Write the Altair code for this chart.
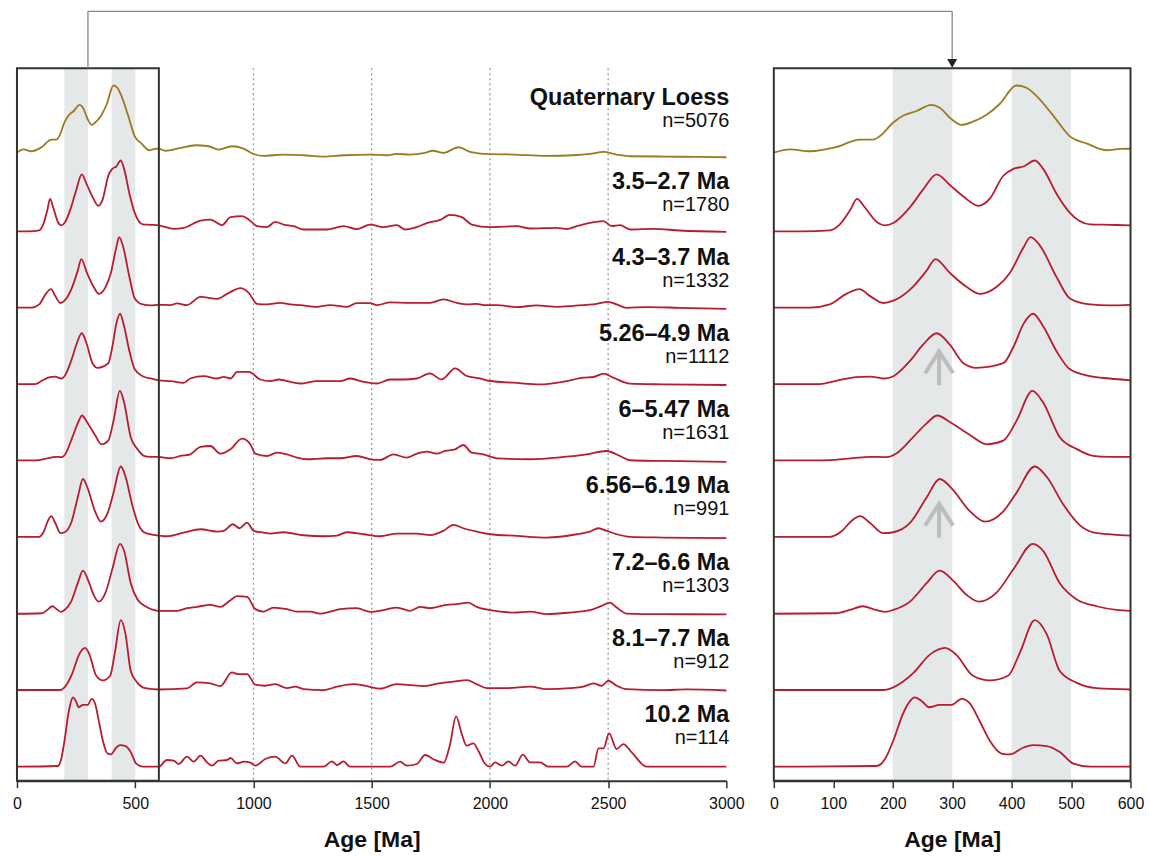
import altair as alt
import pandas as pd

FONT = "Liberation Sans"

SERIES = ["Quaternary Loess", "3.5–2.7 Ma", "4.3–3.7 Ma", "5.26–4.9 Ma", "6–5.47 Ma",
          "6.56–6.19 Ma", "7.2–6.6 Ma", "8.1–7.7 Ma", "10.2 Ma"]
COUNTS = [5076, 1780, 1332, 1112, 1631, 991, 1303, 912, 114]
COLORS = ["#9C7A1F"] + ["#B71C2F"] * 8

LOESS_AGE = [0, 27, 61, 105, 145, 167, 178, 201, 218, 240, 265, 279, 299, 316, 335, 358, 380, 408, 425, 442,
             470, 498, 526, 560, 582, 600, 627, 691, 754, 810, 853, 909, 958, 1000, 1043, 1127, 1212, 1296, 1381, 1494,
             1564, 1606, 1663, 1719, 1760, 1803, 1867, 1916, 1973, 2100, 2240, 2353, 2423, 2480, 2536, 2593, 2733, 2874, 3000]
LOESS_H = [4.6, 7.9, 6.0, 10.2, 17.6, 17.6, 20.9, 34.8, 41.7, 46.3, 52.4, 49.6, 38.0, 32.4, 35.7, 42.6, 53.3, 71.8, 69.5, 61.2,
           41.7, 20.9, 13.9, 7.0, 8.3, 8.5, 6.5, 9.3, 12.0, 11.0, 7.7, 11.0, 8.7, 3.3, 1.3, 2.7, 2.0, 0.7, 2.0, 2.7,
           2.0, 3.3, 2.7, 4.0, 6.5, 4.3, 10.0, 5.3, 3.3, 2.7, 1.3, 2.0, 3.3, 5.3, 2.7, 1.0, 0.7, 0.3, 0.0]

S35_AGE = [0, 49, 94, 111, 128, 140, 153, 173, 187, 201, 229, 251, 274, 296, 319, 344, 363, 386, 403, 420,
           439, 453, 476, 498, 532, 565, 600, 620, 663, 705, 776, 818, 867, 903, 952, 980, 1015, 1057, 1092, 1127,
           1170, 1212, 1310, 1381, 1437, 1494, 1550, 1606, 1641, 1691, 1733, 1789, 1831, 1881, 1923, 2001, 2114, 2170, 2283, 2325,
           2367, 2423, 2480, 2515, 2550, 2593, 2691, 2803, 3000]
S35_H = [2.1, 2.1, 3.1, 9.1, 23.0, 34.6, 26.2, 11.4, 8.1, 10.4, 26.2, 43.8, 59.1, 48.5, 36.9, 27.6, 34.6, 57.7, 64.6, 67.0,
         73.0, 64.6, 39.2, 20.6, 9.1, 8.6, 8.0, 6.8, 4.6, 5.6, 12.9, 13.9, 8.3, 16.3, 17.3, 13.9, 7.3, 6.3, 11.6, 8.9,
         7.3, 3.9, 3.9, 7.3, 4.3, 8.9, 6.3, 8.3, 3.9, 6.3, 10.3, 13.5, 18.5, 16.3, 8.9, 6.3, 7.3, 4.9, 5.6, 4.3,
         7.3, 10.6, 12.3, 7.3, 8.3, 3.9, 4.6, 2.9, 1.6]

S43_AGE = [0, 61, 94, 122, 144, 162, 184, 201, 234, 257, 272, 296, 324, 347, 375, 397, 420, 432, 447, 476,
           498, 532, 565, 600, 649, 677, 719, 776, 846, 889, 945, 980, 1015, 1057, 1113, 1156, 1198, 1268, 1325, 1395,
           1437, 1494, 1522, 1578, 1663, 1747, 1803, 1860, 1902, 1944, 1973, 2029, 2114, 2198, 2283, 2353, 2452, 2501, 2536, 2578,
           2663, 2803, 3000]
S43_H = [1.9, 1.9, 5.2, 15.8, 20.5, 13.5, 6.6, 8.9, 22.8, 39.0, 50.6, 36.7, 22.8, 15.8, 22.8, 36.7, 62.2, 72.5, 64.6, 32.1,
         11.2, 5.2, 4.3, 4.8, 4.5, 6.2, 4.5, 12.8, 10.8, 15.8, 21.5, 16.8, 5.8, 5.2, 6.8, 5.2, 4.5, 2.8, 4.5, 2.8,
         6.5, 6.5, 4.5, 7.2, 6.8, 6.8, 10.2, 6.8, 5.2, 5.8, 4.5, 4.5, 2.5, 4.2, 2.8, 3.8, 5.8, 7.8, 5.2, 1.8,
         2.5, 1.8, 0.8]

S526_AGE = [0, 77, 105, 139, 162, 187, 201, 229, 251, 274, 296, 319, 341, 386, 403, 420, 436, 453, 476, 498,
            532, 565, 600, 649, 705, 733, 790, 846, 874, 903, 931, 980, 1029, 1071, 1107, 1142, 1198, 1268, 1367, 1409,
            1466, 1522, 1578, 1634, 1691, 1745, 1796, 1853, 1902, 1958, 2001, 2100, 2212, 2311, 2395, 2438, 2480, 2522, 2593, 2733,
            3000]
S526_H = [1.7, 1.7, 5.0, 8.7, 9.1, 7.3, 9.6, 24.9, 41.1, 52.6, 41.1, 22.6, 18.0, 22.6, 38.8, 62.0, 72.1, 59.6, 34.1, 16.5,
          9.6, 7.3, 5.5, 4.7, 3.0, 7.3, 9.7, 7.3, 9.0, 7.3, 14.0, 14.0, 6.3, 4.7, 6.3, 4.7, 2.3, 4.7, 4.7, 7.3,
          4.0, 2.3, 6.3, 6.3, 7.3, 12.5, 6.4, 17.4, 9.8, 7.4, 4.8, 3.1, 1.4, 4.1, 8.1, 8.8, 12.1, 8.1, 2.1, 1.4,
          0.8]

S6_AGE = [0, 77, 133, 162, 190, 206, 234, 257, 275, 296, 330, 358, 386, 408, 435, 453, 481, 509, 537, 565,
          600, 649, 691, 733, 776, 818, 860, 903, 952, 987, 1008, 1057, 1099, 1142, 1184, 1226, 1310, 1367, 1437, 1494,
          1536, 1592, 1648, 1691, 1733, 1775, 1810, 1853, 1888, 1923, 1973, 2029, 2170, 2311, 2409, 2494, 2550, 2593, 2733, 3000]
S6_H = [1.5, 1.5, 3.9, 5.2, 4.8, 8.5, 24.7, 38.6, 46.5, 40.0, 27.0, 17.7, 21.4, 40.9, 71.1, 59.5, 24.7, 13.1, 6.2, 5.2,
        5.0, 3.7, 6.0, 7.7, 15.0, 16.0, 8.3, 12.7, 23.3, 17.7, 8.3, 6.0, 9.3, 7.7, 4.3, 2.7, 3.7, 3.7, 6.0, 2.7,
        2.0, 7.7, 4.3, 8.3, 10.3, 8.3, 11.0, 12.7, 17.0, 9.3, 7.7, 3.7, 2.7, 5.0, 7.7, 11.0, 6.0, 1.7, 1.0, 0.0]

S656_AGE = [0, 94, 114, 131, 145, 162, 184, 201, 229, 257, 279, 299, 330, 355, 386, 408, 439, 459, 487, 515,
            537, 571, 600, 634, 705, 776, 846, 874, 913, 941, 973, 1001, 1043, 1071, 1127, 1212, 1296, 1353, 1395, 1466,
            1536, 1606, 1691, 1747, 1803, 1846, 1888, 1944, 2001, 2114, 2240, 2367, 2423, 2459, 2494, 2536, 2593, 2733, 3000]
S656_H = [1.3, 1.3, 6.9, 17.5, 22.1, 15.2, 5.0, 5.9, 15.2, 40.7, 59.2, 49.9, 26.8, 16.5, 26.8, 45.3, 71.7, 61.5, 33.6, 12.8,
          5.9, 3.6, 2.5, 1.9, 5.6, 8.9, 6.6, 7.3, 13.9, 9.9, 15.6, 7.3, 5.6, 4.6, 5.9, 2.9, 1.9, 2.6, 5.9, 3.9,
          1.9, 4.6, 4.6, 3.0, 7.3, 13.3, 9.9, 6.6, 3.9, 2.3, 0.6, 3.9, 6.6, 9.9, 7.3, 3.9, 1.3, 0.6, 0.0]

S72_AGE = [0, 105, 128, 150, 167, 187, 201, 229, 257, 279, 302, 324, 345, 375, 403, 436, 453, 481, 509, 543,
           577, 600, 677, 719, 761, 818, 860, 903, 931, 973, 1008, 1043, 1085, 1142, 1184, 1240, 1282, 1325, 1367, 1437,
           1494, 1550, 1606, 1663, 1705, 1747, 1817, 1860, 1909, 1944, 2001, 2100, 2170, 2240, 2339, 2423, 2473, 2508, 2536, 2578,
           2733, 3000]
S72_H = [0.6, 1.1, 4.4, 8.1, 5.3, 2.5, 4.4, 12.7, 31.2, 43.7, 33.5, 19.6, 12.7, 22.0, 45.1, 70.6, 63.6, 31.2, 15.1, 8.1,
         4.4, 3.4, 3.5, 6.2, 7.5, 9.5, 7.5, 14.2, 18.2, 17.5, 5.2, 2.8, 6.8, 5.2, 2.8, 2.8, 0.8, 2.8, 5.2, 6.2,
         2.5, 4.2, 6.8, 3.5, 7.5, 6.2, 9.5, 10.2, 11.8, 7.5, 4.2, 1.8, 2.8, 0.2, 1.8, 4.2, 8.5, 11.8, 6.8, 0.8,
         0.2, 0.0]

S81_AGE = [0, 184, 201, 234, 262, 288, 307, 335, 363, 394, 414, 439, 459, 481, 509, 543, 600, 719, 761, 818,
           860, 909, 937, 973, 1008, 1050, 1092, 1142, 1177, 1212, 1296, 1353, 1423, 1480, 1536, 1606, 1677, 1719, 1775, 1853,
           1902, 1944, 1987, 2071, 2170, 2240, 2339, 2395, 2438, 2473, 2501, 2536, 2578, 2733, 2832, 3000]
S81_H = [0.5, 0.5, 3.2, 17.1, 35.7, 42.6, 35.7, 14.8, 10.2, 14.8, 38.0, 70.4, 56.5, 19.5, 7.9, 2.3, 1.0, 2.1, 8.1, 7.1,
         4.4, 18.1, 16.4, 16.4, 5.8, 4.8, 6.4, 2.4, 3.8, 1.4, 0.4, 3.8, 6.4, 4.4, 1.8, 6.4, 5.1, 4.4, 6.8, 9.1,
         10.4, 6.4, 2.4, 2.4, 3.8, 1.4, 2.4, 3.8, 7.1, 4.8, 9.8, 4.8, 1.4, 0.4, 1.1, 0.0]

S102_AGE = [0, 173, 187, 201, 218, 229, 237, 249, 261, 279, 299, 316, 330, 347, 363, 383, 397, 420, 436, 459,
            481, 504, 532, 600, 634, 663, 684, 719, 747, 776, 804, 825, 853, 889, 903, 931, 959, 987, 1008, 1050,
            1092, 1135, 1163, 1198, 1296, 1332, 1353, 1381, 1409, 1578, 1620, 1648, 1691, 1726, 1761, 1805, 1831, 1857, 1881, 1902,
            1930, 1951, 1980, 2001, 2022, 2050, 2078, 2107, 2139, 2170, 2212, 2247, 2325, 2360, 2388, 2438, 2459, 2480, 2504, 2536,
            2564, 2600, 2663, 3000]
S102_H = [0.0, 0.7, 7.6, 26.2, 54.0, 65.6, 69.3, 65.6, 59.5, 61.9, 61.9, 67.8, 63.2, 44.7, 26.2, 13.2, 12.3, 19.2, 21.5, 20.6,
          14.6, 3.0, 0.0, 0.0, 6.7, 6.0, 2.7, 10.0, 5.0, 11.0, 4.3, 1.0, 6.0, 6.7, 8.7, 3.3, 5.0, 4.0, 1.0, 7.7,
          10.0, 3.3, 11.0, 0.0, 0.0, 5.3, 1.7, 5.3, 0.0, 0.0, 5.0, 1.0, 2.7, 11.7, 7.5, 4.0, 22.0, 50.3, 32.7, 21.0,
          23.3, 16.0, 2.7, 0.0, 4.3, 1.0, 5.3, 1.0, 12.0, 4.3, 4.3, 0.0, 0.0, 5.3, 0.0, 0.0, 18.3, 18.3, 33.3, 17.7,
          22.7, 14.3, 0.0, 0.0]

AGES = [LOESS_AGE, S35_AGE, S43_AGE, S526_AGE, S6_AGE, S656_AGE, S72_AGE, S81_AGE, S102_AGE]
HEIGHTS = [LOESS_H, S35_H, S43_H, S526_H, S6_H, S656_H, S72_H, S81_H, S102_H]

BAND_START = [200, 400]
BAND_END = [300, 500]
DOTTED = [1000, 1500, 2000, 2500]
ZOOM_START, ZOOM_END = 0, 600
LEFT_TICKS = [0, 500, 1000, 1500, 2000, 2500, 3000]
RIGHT_TICKS = [0, 100, 200, 300, 400, 500, 600]
ARROW_SERIES = ["5.26–4.9 Ma", "6.56–6.19 Ma"]
ARROW_AGE = 278
ARROW_LEN = 36
LINK_AGE = 300

# layout
LW, RW, H, GAP = 710, 357, 713, 47.5
BASE0, STEP = 624, 76.25
LINK_Y = -57

rows = []
for k, (name, ages, hs) in enumerate(zip(SERIES, AGES, HEIGHTS)):
    assert len(ages) == len(hs), name
    base = BASE0 - STEP * k
    for a, h in zip(ages, hs):
        rows.append({"series": name, "age": a, "y": base + h})
curves = pd.DataFrame(rows)
curves_r = curves[curves["age"] <= ZOOM_END]

lab_rows = []
for k, (name, n) in enumerate(zip(SERIES, COUNTS)):
    base = BASE0 - STEP * k
    lift = 7.4 if k == 0 else 0
    lab_rows.append({"series": name, "ntext": f"n={n}", "x": LEFT_TICKS[-1],
                     "ty": base + 44.7 + lift, "ny": base + 22.7 + lift})
labels = pd.DataFrame(lab_rows)

arrow_rows = []
for name in ARROW_SERIES:
    base = BASE0 - STEP * SERIES.index(name)
    arrow_rows.append({"age": ARROW_AGE, "y0": base + 0.5, "y1": base + ARROW_LEN,
                       "yh": base + ARROW_LEN - 12.5})
arrows = pd.DataFrame(arrow_rows)

bands = pd.DataFrame({"start": BAND_START, "end": BAND_END})
dots = pd.DataFrame({"age": DOTTED})
zoom_box = pd.DataFrame({"start": [ZOOM_START], "end": [ZOOM_END]})
link = pd.DataFrame({"age": [LINK_AGE]})

xl = alt.Scale(domain=[0, LEFT_TICKS[-1]], nice=False, zero=False)
xr = alt.Scale(domain=[ZOOM_START, ZOOM_END], nice=False, zero=False)
ys = alt.Scale(domain=[0, H], nice=False, zero=False)


def make_axis(values):
    return alt.Axis(values=values, format="d", labelFont=FONT, labelFontSize=16, labelColor="#111",
                    labelPadding=8, labelFlush=False, tickSize=7, tickColor="#333", tickWidth=1.5,
                    domainColor="#333", domainWidth=2, grid=False, title="Age [Ma]",
                    titleFont=FONT, titleFontSize=23, titleFontWeight="bold", titleColor="#111",
                    titlePadding=17)


AXL = make_axis(LEFT_TICKS)
AXR = make_axis(RIGHT_TICKS)


def XL(f):
    return alt.X(f, type="quantitative", scale=xl, axis=AXL)


def XR(f):
    return alt.X(f, type="quantitative", scale=xr, axis=AXR)


def Y(f):
    return alt.Y(f, type="quantitative", scale=ys, axis=None)


COLOR = alt.Color("series:N", scale=alt.Scale(domain=SERIES, range=COLORS), legend=None)
BAND_COLOR = "#E5E8E9"

# ---- left panel
bands_l = alt.Chart(bands).mark_rect(color=BAND_COLOR).encode(x=XL("start"), x2="end")
dots_l = alt.Chart(dots).mark_rule(color="#9a9a9a", strokeDash=[2, 3], strokeWidth=1.3).encode(x=XL("age"))
lines_l = alt.Chart(curves).mark_line(interpolate="monotone", strokeWidth=1.8).encode(
    x=XL("age"), y=Y("y"), color=COLOR, detail="series:N")
box_l = alt.Chart(zoom_box).mark_rect(filled=False, color="#333", strokeWidth=2).encode(x=XL("start"), x2="end")
titles_l = alt.Chart(labels).mark_text(align="right", baseline="alphabetic", dx=3, font=FONT, fontSize=23.5,
                                       fontWeight="bold", color="#111").encode(x=XL("x"), y=Y("ty"), text="series:N")
ns_l = alt.Chart(labels).mark_text(align="right", baseline="alphabetic", dx=3, font=FONT, fontSize=20,
                                   color="#111").encode(x=XL("x"), y=Y("ny"), text="ntext:N")
link_up = alt.Chart(link).mark_rule(color="#888", strokeWidth=1.3).encode(
    x=XL("age"), y=alt.value(0), y2=alt.value(LINK_Y))
link_across = alt.Chart(link).mark_rule(color="#888", strokeWidth=1.3).encode(
    x=XL("age"), x2=alt.value(LW + GAP + RW * (LINK_AGE - ZOOM_START) / (ZOOM_END - ZOOM_START)),
    y=alt.value(LINK_Y))

left = alt.layer(bands_l, dots_l, lines_l, box_l, titles_l, ns_l, link_up, link_across).properties(
    width=LW, height=H)

# ---- right panel
bands_r = alt.Chart(bands).mark_rect(color=BAND_COLOR).encode(x=XR("start"), x2="end")
shafts = alt.Chart(arrows).mark_rule(color="#BDBDBD", strokeWidth=4).encode(x=XR("age"), y=Y("y0"), y2="y1")
heads = alt.Chart(arrows).mark_point(shape="M-1,0.78L0,-0.78L1,0.78", filled=False, size=784, strokeWidth=4,
                                     color="#BDBDBD", opacity=1).encode(x=XR("age"), y=Y("yh"))
lines_r = alt.Chart(curves_r).mark_line(interpolate="monotone", strokeWidth=1.8, clip=True).encode(
    x=XR("age"), y=Y("y"), color=COLOR, detail="series:N")
frame_r = alt.Chart(zoom_box).mark_rect(filled=False, color="#333", strokeWidth=2).encode(x=XR("start"), x2="end")
link_down = alt.Chart(link).mark_rule(color="#888", strokeWidth=1.3).encode(
    x=XR("age"), y=alt.value(LINK_Y), y2=alt.value(-8))
tip = alt.Chart(link).mark_point(shape="triangle-down", filled=True, size=100, color="#222", opacity=1).encode(
    x=XR("age"), y=alt.value(-5))

right = alt.layer(bands_r, shafts, heads, lines_r, frame_r, link_down, tip).properties(width=RW, height=H)

chart = alt.hconcat(left, right, spacing=GAP, bounds="flush").resolve_scale(
    x="independent", y="independent").configure_view(strokeWidth=0).properties(
    padding={"left": 12, "top": 10, "right": 5, "bottom": 5}, background="white")

chart.save("out.html", embed_options={"renderer": "svg", "actions": False})
